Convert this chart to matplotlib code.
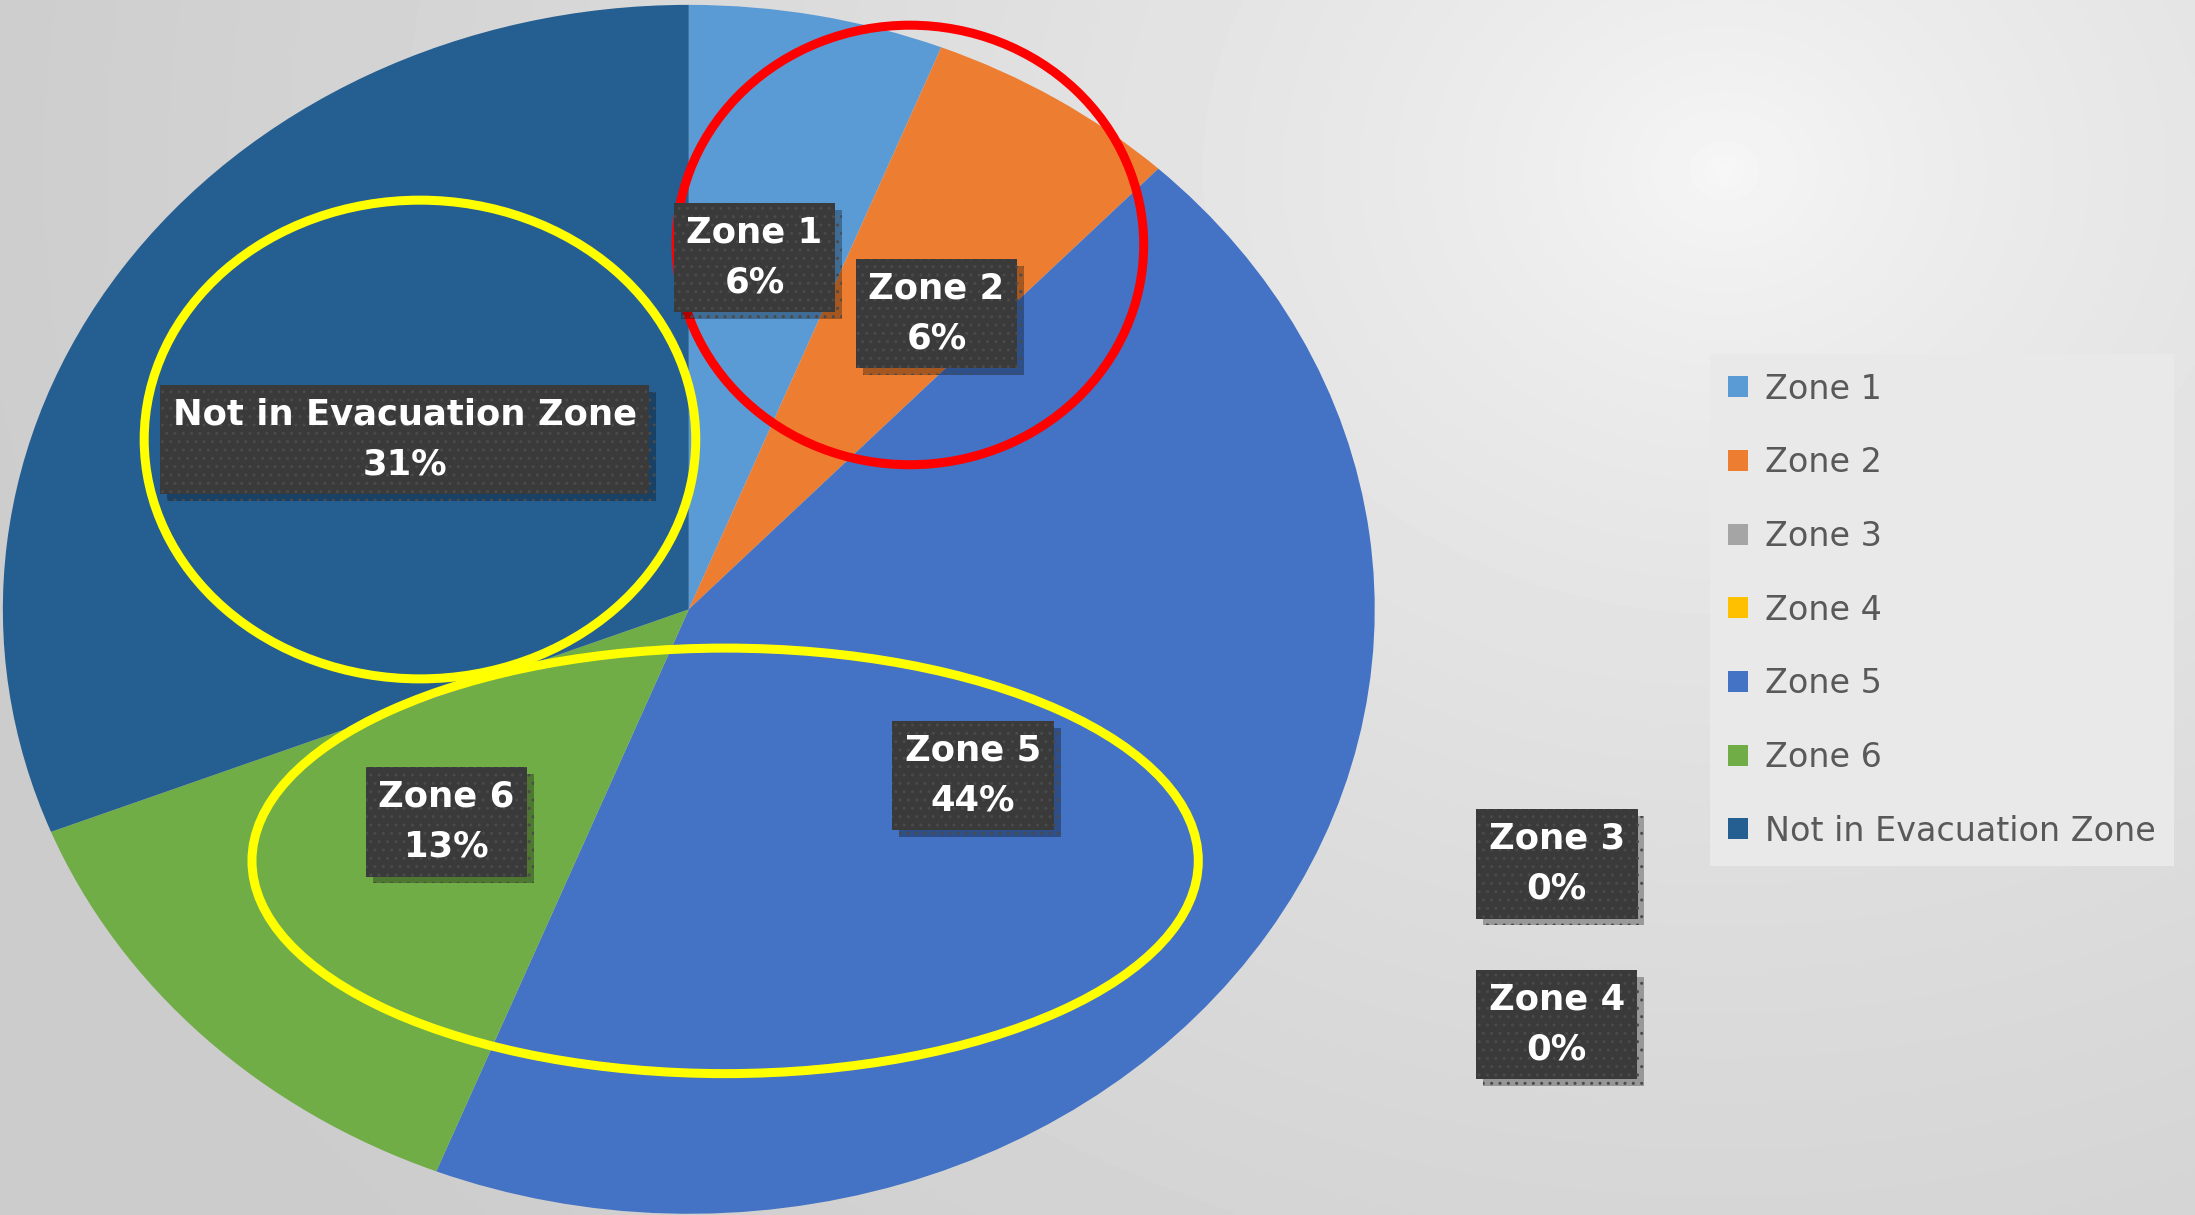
import numpy as np
import matplotlib
matplotlib.use("Agg")
import matplotlib.pyplot as plt
import matplotlib.patheffects as pe
from matplotlib.patches import Ellipse

# data
zones = ["Zone 1", "Zone 2", "Zone 3", "Zone 4", "Zone 5", "Zone 6", "Not in Evacuation Zone"]
shares = [6, 6, 0, 0, 44, 13, 31]
colors = ["#5B9BD5", "#ED7D31", "#A5A5A5", "#FFC000", "#4472C4", "#70AD47", "#255E91"]

# label box centres in reference pixel space (1568 x 868)
label_pos = [(539, 184), (669, 224), (1112, 617), (1112, 732), (695, 554), (319, 587), (289, 314)]

W, H = 1568, 868

fig = plt.figure(figsize=(21.95, 12.15), dpi=100)

# ------------- background gradient -------------
bg = fig.add_axes([0, 0, 1, 1], zorder=0)
yy, xx = np.mgrid[0:H:4, 0:W:4]
dx = (xx - 1230) / 1.0
dy = (yy - 120) / 0.85
r = np.sqrt(dx ** 2 + dy ** 2)
shade = 0.97 - 0.17 * np.clip(r / 1300, 0, 1) ** 0.65
bg.imshow(shade, cmap="gray", vmin=0, vmax=1, extent=[0, W, H, 0], aspect="auto",
          interpolation="bilinear")
bg.set_xlim(0, W)
bg.set_ylim(H, 0)
bg.axis("off")

# ------------- pie (stretched to an ellipse) -------------
ax = fig.add_axes([0.0013, 0.001, 0.625, 0.995], zorder=1)
wedges, _ = ax.pie(shares, colors=colors, startangle=90, counterclock=False,
                   wedgeprops=dict(linewidth=0))
ax.set_aspect("auto")
ax.set_xlim(-1, 1)
ax.set_ylim(-1, 1)

leg = fig.legend(wedges, zones, loc="upper left", bbox_to_anchor=(0.779, 0.7085),
                 fontsize=24, frameon=True, facecolor="#e9e9e9", edgecolor="none",
                 framealpha=1, fancybox=False, handlelength=0.6, handleheight=0.6,
                 handletextpad=0.5, labelspacing=1.22, borderpad=0.55, borderaxespad=0)
for t in leg.get_texts():
    t.set_color("#595959")

# ------------- overlay: data labels and highlight rings -------------
ov = fig.add_axes([0, 0, 1, 1], zorder=2)
ov.set_xlim(0, W)
ov.set_ylim(H, 0)
ov.axis("off")
ov.patch.set_alpha(0)

for name, val, (x, y) in zip(zones, shares, label_pos):
    t = ov.text(x, y, f"{name}\n{val}%", ha="center", va="center", fontsize=25.5,
                fontweight="bold", color="white", linespacing=1.6,
                bbox=dict(boxstyle="square,pad=0.36", facecolor="#3a3a3a",
                          edgecolor="#4a4a4a", linewidth=0, hatch=".."))
    t.get_bbox_patch().set_path_effects([
        pe.SimplePatchShadow(offset=(5, -5), shadow_rgbFace="black", alpha=0.3),
        pe.Normal()])

rings = [((650, 175), 334, 314, "#FF0000"),
         ((300, 314), 394, 342, "#FFFF00"),
         ((518, 615), 676, 304, "#FFFF00")]
for (cx, cy), w, h, c in rings:
    ov.add_patch(Ellipse((cx, cy), w, h, fill=False, edgecolor=c, linewidth=6.5))

fig.savefig("out.png", dpi=100)
